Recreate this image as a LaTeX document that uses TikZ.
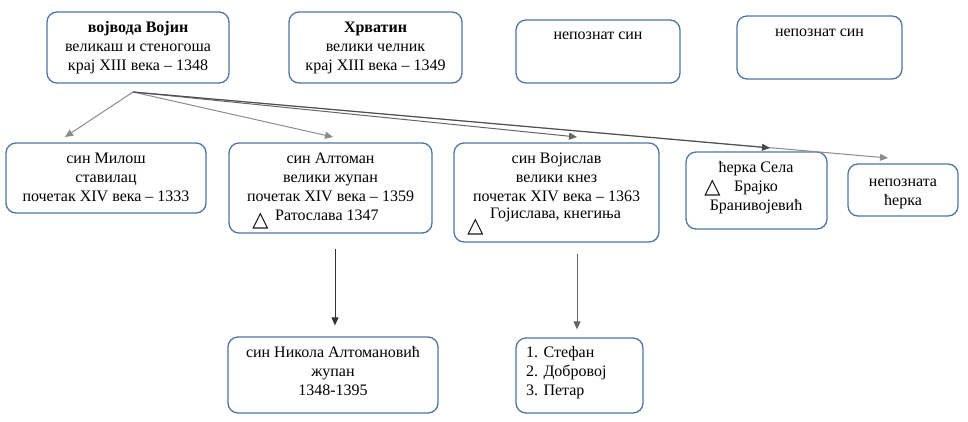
\documentclass[tikz,border=0pt]{standalone}
\usepackage{fontspec}
\setmainfont{Liberation Serif}
\newfontfamily\symfont{DejaVu Sans}
\usetikzlibrary{arrows.meta,calc}
\definecolor{boxblue}{RGB}{78,118,165}
\begin{document}
\begin{tikzpicture}[x=1pt,y=-1pt,
  box/.style={draw=boxblue, line width=1.3pt, rounded corners=10pt, inner sep=0pt, fill=white},
  txt/.style={align=center, inner sep=0pt, anchor=north, font=\fontsize{16}{19}\selectfont},
  ltxt/.style={inner sep=0pt, anchor=west, font=\fontsize{16}{19}\selectfont},
  tri/.style={inner sep=0pt, text height=15pt, text depth=0pt, font=\symfont\fontsize{21}{21}\selectfont},
  conn/.style={line width=1pt, -{Triangle[length=8pt,width=7pt]}},
]
\useasboundingbox (0,0) rectangle (968,421);
\fill[white] (0,0) rectangle (968,421);

% boxes
\node[box, minimum width=182pt, minimum height=71pt] (vojin)   at (138,47.5) {};
\node[box, minimum width=173pt, minimum height=71pt] (hrvatin) at (375.5,47.5) {};
\node[box, minimum width=164pt, minimum height=63pt] (unkA)    at (598,51.5) {};
\node[box, minimum width=165pt, minimum height=63pt] (unkB)    at (819.5,47.5) {};
\node[box, minimum width=200pt, minimum height=70pt] (milos)   at (106,178) {};
\node[box, minimum width=203pt, minimum height=90pt] (altoman) at (330.5,188) {};
\node[box, minimum width=205pt, minimum height=99pt] (vojislav) at (556.5,192.5) {};
\node[box, minimum width=141pt, minimum height=77pt] (sela)    at (756.5,190.5) {};
\node[box, minimum width=110pt, minimum height=52pt] (unkD)    at (903,190) {};
\node[box, minimum width=210pt, minimum height=76pt] (nikola)  at (333,375) {};
\node[box, minimum width=127pt, minimum height=75pt] (sons)    at (579.5,375.5) {};

% texts
\node[txt] (tvojin) at (138,18.5) {\strut\textbf{војвода Војин}\\великаш и стеногоша\\крај XIII века – 1348};
\node[txt] (thrv) at (375.5,18.5) {\strut\textbf{Хрватин}\\велики челник\\крај XIII века – 1349};
\node[txt] (tunkA) at (598,25.7) {\strut непознат син};
\node[txt] (tunkB) at (819.5,22.7) {\strut непознат син};
\node[txt] (tmilos) at (106,149.7) {\strut син Милош\\ставилац\\почетак XIV века – 1333};
\node[txt] (talt) at (330.5,149.7) {\strut син Алтоман\\велики жупан\\почетак XIV века – 1359};
\node[tri] (trA) at (260.5,218.5) {△};
\node[ltxt] (tratosl) at (275,215) {Ратослава 1347};
\node[txt] (tvojisl) at (556.5,149.7) {\strut син Војислав\\велики кнез\\почетак XIV века – 1363};
\node[tri] (trB) at (475.5,224.5) {△};
\node[ltxt] (tgojisl) at (490,215) {Гојислава, кнегиња};
\node[txt] (tsela) at (756,158.7) {\strut ћерка Села\\Брајко\\Бранивојевић};
\node[tri] (trC) at (712.5,185.5) {△};
\node[txt] (tunkD) at (903,172.7) {\strut непозната\\ћерка};
\node[txt] (tnik) at (333,343.7) {\strut син Никола Алтомановић\\жупан\\1348-1395};
\node[txt, anchor=north west, align=left] (tsons) at (526,343.7) {\strut 1. Стефан\\2. Добровој\\3. Петар};

% connectors
\coordinate (src) at (133,92);
\coordinate (eMilos) at (65,137);
\coordinate (eAlt) at (333,137);
\coordinate (eVoj) at (577,137);
\coordinate (eSela) at (770,148);
\coordinate (eUnkD) at (888,158);
\draw[conn, draw=black!45] (src) -- (eMilos);
\draw[conn, draw=black!45] (src) -- (eAlt);
\draw[conn, draw=black!60] (src) -- (eVoj);
\draw[conn, draw=black!45] (src) -- (eUnkD);
\draw[conn, draw=black!70] (src) -- (eSela);
\draw[conn, draw=black!80] ($(altoman.south)+(4.5,15)$) -- ($(nikola.north)+(2,-11)$);
\draw[conn, draw=black!60] ($(vojislav.south)+(20.5,11)$) -- ($(sons.north)+(-2.5,-8)$);
\end{tikzpicture}
\end{document}
